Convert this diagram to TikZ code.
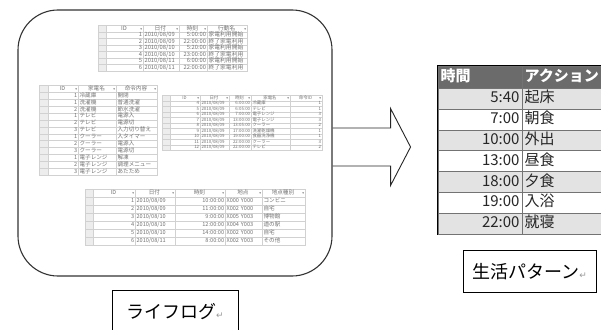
\documentclass[tikz,border=0pt]{standalone}
\usepackage{fontspec}
\setmainfont{Noto Sans CJK JP}
\newfontfamily\arrowfont{DejaVu Sans}
\usetikzlibrary{matrix,positioning}

\newcommand\filtmark{{\arrowfont\fontsize{3.5}{4}\selectfont ▾}}
\newcommand\xlhead[1]{\makebox[\linewidth]{\hfill#1\hfill\filtmark}}
\newcommand\retmark{{\arrowfont\fontsize{9}{9}\selectfont\color{black!40}↵}}

\tikzstyle{logframe} = [draw=black!80, line width=1.1pt, rounded corners=40pt, minimum width=314pt, minimum height=266pt]
\tikzstyle{labelbox} = [draw, line width=0.8pt, minimum width=126pt, minimum height=42pt, font=\fontsize{18}{20}\selectfont]
\tikzstyle{blockarrow} = [draw=black!85, line width=0.9pt, line join=miter]
\tikzstyle{xltab} = [matrix of nodes, nodes in empty cells, anchor=north west, inner sep=0pt, column sep=-0.3pt, row sep=-0.3pt, nodes={draw=black!18, line width=0.3pt, text=black!55, inner xsep=1.2pt, inner ysep=0pt}, column 1/.style={nodes={fill=black!7}}]
\tikzstyle{pattab} = [matrix of nodes, anchor=north west, inner sep=0pt, draw=black, line width=1.4pt, column sep=-0.6pt, row sep=-0.6pt,
  nodes={draw=black!55, line width=0.6pt, inner xsep=2.5pt, inner ysep=0pt, minimum height=20.9pt, text height=11pt, text depth=3pt, font=\fontsize{15}{17}\selectfont, text=black!85},
  column 1/.style={nodes={text width=79pt, align=right}},
  column 2/.style={nodes={text width=94pt, align=left}},
  every even row/.style={nodes={fill=black!11}},
  row 1/.style={nodes={fill=black!58, text=white, font=\fontsize{15}{17}\selectfont\bfseries, align=left, minimum height=22pt}}]

\begin{document}
\begin{tikzpicture}[x=1pt, y=-1pt]
\useasboundingbox[fill=white] (0,0) rectangle (601,329);
\clip (0,0) rectangle (601,329);
 % life log frame
    \node [logframe] (lifelog) at (175,143) {};
    \matrix (applog) [xltab, nodes={font=\fontsize{5.8}{7}\selectfont, minimum height=6.5pt, text height=4.2pt, text depth=1.2pt},
      column 1/.append style={nodes={text width=5.6pt}},
      column 2/.style={nodes={text width=34.6pt, align=right}},
      column 3/.style={nodes={text width=33.6pt, align=left}},
      column 4/.style={nodes={text width=25.6pt, align=right}},
      column 5/.style={nodes={text width=37.6pt, align=left}}] at (98,25) {
       & \xlhead{ID} & \xlhead{日付} & \xlhead{時刻} & \xlhead{行動名} \\
       & 1 & 2010/08/09 & 5:00:00 & 家電利用開始 \\
       & 2 & 2010/08/09 & 22:00:00 & 終了家電利用 \\
       & 3 & 2010/08/10 & 5:20:00 & 家電利用開始 \\
       & 4 & 2010/08/10 & 23:00:00 & 終了家電利用 \\
       & 5 & 2010/08/11 & 6:00:00 & 家電利用開始 \\
       & 6 & 2010/08/11 & 22:00:00 & 終了家電利用 \\
    };
    \matrix (cmdlist) [xltab, nodes={font=\fontsize{5.6}{7}\selectfont, minimum height=6.9pt, text height=4.2pt, text depth=1.2pt},
      column 1/.append style={nodes={text width=6.6pt}},
      column 2/.style={nodes={text width=27.6pt, align=right}},
      column 3/.style={nodes={text width=35.6pt, align=left}},
      column 4/.style={nodes={text width=38.6pt, align=left}}] at (39,85) {
       & \xlhead{ID} & \xlhead{家電名} & \xlhead{命令内容} \\
       & 1 & 冷蔵庫 & 開閉 \\
       & 1 & 洗濯機 & 普通洗濯 \\
       & 2 & 洗濯機 & 節水洗濯 \\
       & 1 & テレビ & 電源入 \\
       & 2 & テレビ & 電源切 \\
       & 3 & テレビ & 入力切り替え \\
       & 1 & クーラー & 入タイマー \\
       & 2 & クーラー & 電源入 \\
       & 3 & クーラー & 電源切 \\
       & 1 & 電子レンジ & 解凍 \\
       & 2 & 電子レンジ & 調理メニュー \\
       & 3 & 電子レンジ & あたため \\
    };
    \matrix (oplog) [xltab, nodes={font=\fontsize{4.4}{5.5}\selectfont, minimum height=5.5pt, text height=3.3pt, text depth=1pt},
      column 1/.append style={nodes={text width=5.6pt}},
      column 2/.style={nodes={text width=27.6pt, align=right}},
      column 3/.style={nodes={text width=26.6pt, align=left}},
      column 4/.style={nodes={text width=19.6pt, align=right}},
      column 5/.style={nodes={text width=36.6pt, align=left}},
      column 6/.style={nodes={text width=29.6pt, align=right}}] at (162,95) {
       & \xlhead{ID} & \xlhead{日付} & \xlhead{時刻} & \xlhead{家電名} & \xlhead{命令ID} \\
       & 4 & 2010/08/09 & 6:00:00 & 冷蔵庫 & 1 \\
       & 5 & 2010/08/09 & 6:05:00 & テレビ & 1 \\
       & 6 & 2010/08/09 & 7:00:00 & 電子レンジ & 3 \\
       & 7 & 2010/08/09 & 13:00:00 & 電子レンジ & 3 \\
       & 8 & 2010/08/09 & 13:05:00 & クーラー & 2 \\
       & 9 & 2010/08/09 & 17:00:00 & 洗濯乾燥機 & 1 \\
       & 10 & 2010/08/09 & 19:00:00 & 食器洗浄機 & 1 \\
       & 11 & 2010/08/09 & 22:00:00 & クーラー & 3 \\
       & 12 & 2010/08/09 & 22:00:00 & テレビ & 2 \\
    };
    \matrix (geolog) [xltab, nodes={font=\fontsize{5.6}{7}\selectfont, minimum height=8pt, text height=4.2pt, text depth=1.3pt},
      column 1/.append style={nodes={text width=5.6pt}},
      column 2/.style={nodes={text width=39.6pt, align=right}},
      column 3/.style={nodes={text width=37.6pt, align=left}},
      column 4/.style={nodes={text width=47.6pt, align=right}},
      column 5/.style={nodes={text width=34.6pt, align=left}},
      column 6/.style={nodes={text width=40.6pt, align=left}}] at (85,189) {
       & \xlhead{ID} & \xlhead{日付} & \xlhead{時刻} & \xlhead{地点} & \xlhead{地点種別} \\
       & 1 & 2010/08/09 & 10:00:00 & X000 Y000 & コンビニ \\
       & 2 & 2010/08/09 & 11:00:00 & X002 Y000 & 自宅 \\
       & 3 & 2010/08/10 & 9:00:00 & X005 Y003 & 博物館 \\
       & 4 & 2010/08/10 & 12:00:00 & X004 Y003 & 道の駅 \\
       & 5 & 2010/08/10 & 14:00:00 & X002 Y000 & 自宅 \\
       & 6 & 2010/08/11 & 8:00:00 & X002 Y003 & その他 \\
    };
 % life pattern table
    \matrix (pattern) [pattab] at (437,65) {
      時間 & アクション \\
      5:40 & 起床 \\
      7:00 & 朝食 \\
      10:00 & 外出 \\
      13:00 & 昼食 \\
      18:00 & 夕食 \\
      19:00 & 入浴 \\
      22:00 & 就寝 \\
    };
 % labels
    \node [labelbox, below=13.5pt of lifelog] (lifelogtag) {ライフログ\retmark};
    \node [labelbox, minimum width=133pt, below=14.5pt of pattern] (patterntag) {生活パターン\retmark};
 % block arrow
    \draw [blockarrow] ([yshift=-4pt]lifelog.east) ++(0,-19) -- ++(58,0) -- ++(0,-19.5) -- ++(20,38.5) -- ++(-20,38.5) -- ++(0,-19.5) -- ++(-58,0);
\end{tikzpicture}
\end{document}
